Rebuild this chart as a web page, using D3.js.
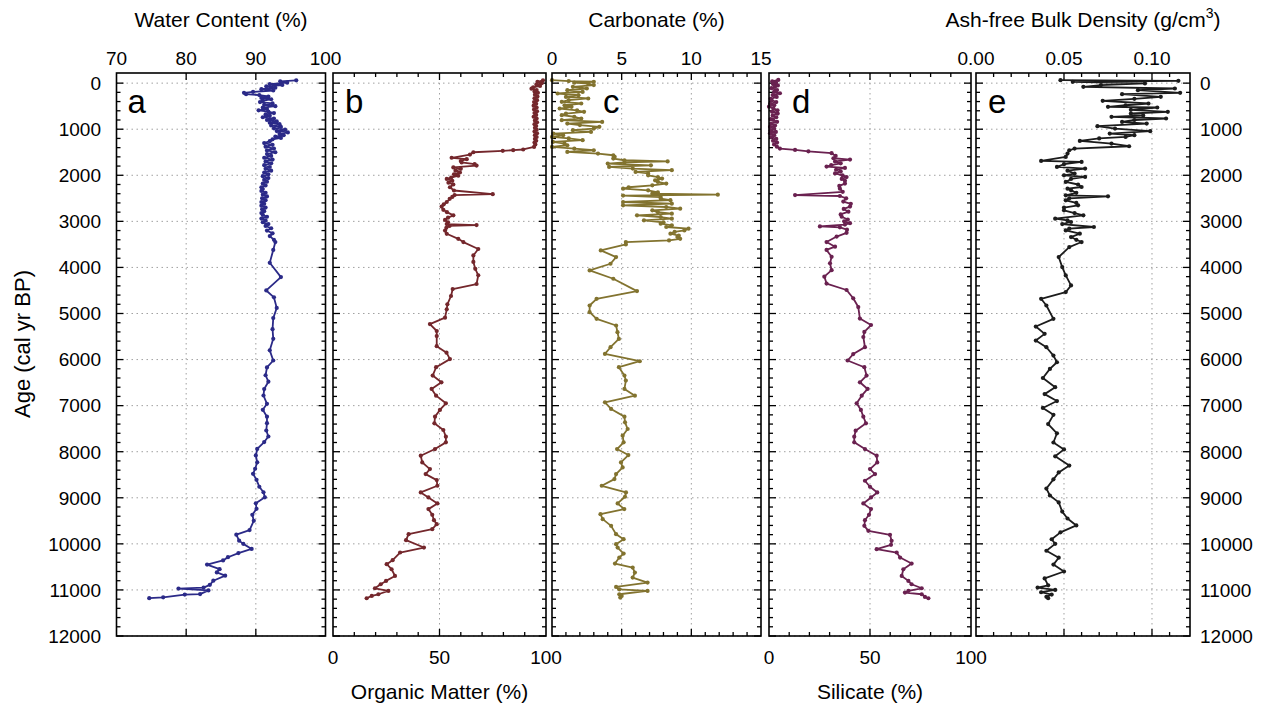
<!DOCTYPE html>
<html>
<head>
<meta charset="utf-8">
<script src="https://cdn.jsdelivr.net/npm/d3@7"></script>
<style>
  body { margin: 0; background: #fff; }
  svg { display: block; font-family: "Liberation Sans", Arial, Helvetica, sans-serif; }
</style>
</head>
<body>
<svg id="chart" width="1271" height="708"></svg>
<script>
// [age (cal yr BP), value]
const waterContent = [
  [-60,95.8],[-40,93.5],[-10,94.5],[20,92.0],[40,93.8],[70,91.5],[100,92.8],[130,90.8],[160,92.5],[190,89.6],
  [210,88.3],[240,88.6],[260,90.5],[290,91.8],[320,90.8],[350,92.2],[380,91.0],[410,90.6],[440,92.4],[470,91.2],
  [500,92.8],[530,91.0],[560,91.6],[590,90.4],[620,91.8],[650,92.6],[680,91.4],[710,92.0],[740,91.0],[770,92.6],
  [800,91.6],[830,93.0],[860,92.0],[890,93.4],[920,92.2],[950,93.6],[980,92.6],[1010,94.2],[1040,93.0],[1070,94.6],
  [1100,93.4],[1130,94.0],[1160,92.8],[1190,93.6],[1220,92.4],[1260,92.0],[1300,91.2],[1340,92.4],[1380,91.4],[1420,92.6],
  [1460,91.6],[1500,92.8],[1540,91.6],[1580,92.2],[1620,91.2],[1660,92.4],[1700,91.4],[1740,92.2],[1780,91.2],[1820,92.0],
  [1860,91.4],[1900,92.2],[1940,91.2],[1980,91.8],[2020,91.0],[2060,91.8],[2100,91.2],[2140,91.6],[2180,91.0],[2220,91.4],
  [2260,90.8],[2300,91.0],[2340,90.8],[2380,91.4],[2420,91.0],[2460,91.6],[2500,90.9],[2540,91.4],[2580,90.8],[2620,91.2],
  [2660,90.8],[2700,91.4],[2740,90.9],[2780,91.2],[2820,90.8],[2860,91.0],[2900,91.6],[2940,90.8],[2980,91.4],[3020,91.0],
  [3060,91.8],[3100,91.4],[3150,92.2],[3200,91.6],[3260,92.4],[3320,92.0],[3400,92.6],[3450,92.8],[3620,92.5],[3900,92.0],
  [4210,93.6],[4500,91.5],[4650,92.6],[4880,93.0],[5100,92.5],[5340,92.4],[5550,92.5],[5800,92.0],[6020,92.5],[6170,91.6],
  [6340,91.4],[6480,91.8],[6640,91.2],[6780,91.1],[6960,91.6],[7090,91.0],[7240,91.6],[7380,91.6],[7540,91.5],[7670,91.8],
  [7790,91.2],[7940,90.2],[8080,90.0],[8230,90.2],[8370,89.9],[8480,89.6],[8610,90.1],[8760,90.5],[8880,91.1],[8990,91.3],
  [9120,90.0],[9240,90.1],[9370,89.5],[9500,89.7],[9700,89.1],[9800,87.2],[9930,87.6],[10000,88.2],[10110,89.4],[10200,87.5],
  [10290,86.0],[10360,85.3],[10450,83.0],[10550,84.8],[10620,84.4],[10690,85.6],[10800,83.9],[10890,83.4],[10950,82.5],[10970,78.9],
  [11010,83.2],[11090,82.0],[11100,79.8],[11160,76.7],[11180,74.7]
];

const organicMatter = [
  [-60,98.6],[-30,96.0],[0,98.0],[30,95.5],[60,97.2],[90,94.0],[120,93.2],[150,95.6],[180,94.6],[210,96.2],
  [250,94.8],[290,96.0],[330,94.6],[370,95.8],[410,94.4],[450,95.4],[490,94.2],[530,95.6],[570,94.4],[610,95.8],
  [650,94.6],[690,95.4],[730,94.2],[770,95.6],[810,94.8],[850,95.8],[890,94.6],[930,95.4],[970,94.8],[1010,95.6],
  [1050,94.6],[1090,95.8],[1130,94.8],[1170,95.6],[1210,94.8],[1250,95.4],[1290,94.6],[1330,95.0],[1385,94.4],[1440,89.3],
  [1455,84.6],[1470,79.7],[1500,65.9],[1550,64.3],[1620,55.7],[1650,62.8],[1690,60.0],[1720,60.4],[1760,66.5],[1790,67.4],
  [1830,56.5],[1860,60.0],[1900,57.5],[1940,59.6],[1980,56.8],[2010,58.8],[2050,55.5],[2080,53.4],[2120,56.0],[2160,54.2],
  [2200,56.5],[2260,54.9],[2330,56.8],[2410,75.0],[2430,57.1],[2470,56.0],[2510,54.8],[2580,53.4],[2630,52.0],[2680,51.0],
  [2750,51.8],[2800,53.5],[2870,56.5],[2920,54.0],[2970,52.6],[3020,54.0],[3060,53.4],[3080,67.4],[3100,54.7],[3140,53.2],
  [3200,52.6],[3270,53.4],[3380,58.8],[3450,61.2],[3600,68.2],[3740,65.9],[3880,65.9],[4030,66.8],[4170,68.2],[4360,67.4],
  [4470,56.2],[4620,55.4],[4800,53.7],[4910,53.4],[5090,52.6],[5230,45.5],[5380,48.7],[5490,48.7],[5710,48.7],[5850,53.3],
  [5990,54.9],[6166,48.4],[6347,46.8],[6493,50.9],[6638,46.3],[6783,48.4],[6949,53.0],[7094,50.2],[7239,47.9],[7384,47.6],
  [7529,51.8],[7674,53.0],[7797,53.0],[7942,47.9],[8087,41.2],[8232,41.9],[8377,45.5],[8486,43.5],[8616,48.7],[8739,49.0],
  [8884,41.2],[8993,44.8],[9123,49.0],[9246,44.8],[9370,46.6],[9486,47.4],[9572,48.7],[9681,46.6],[9790,35.5],[9920,34.3],
  [10080,42.7],[10188,31.5],[10355,28.0],[10442,25.2],[10551,27.5],[10696,29.1],[10804,24.9],[10877,22.4],[10964,19.7],[11022,26.0],
  [11094,21.3],[11130,18.2],[11181,15.8]
];

const carbonate = [
  [-65,0.0],[-45,1.2],[-30,3.0],[-10,1.6],[10,2.6],[43,3.0],[80,1.5],[116,2.5],[152,1.1],[190,2.2],
  [225,0.4],[261,1.9],[300,1.0],[333,2.6],[370,1.2],[406,0.7],[442,2.1],[480,0.9],[514,1.4],[551,0.55],
  [590,1.8],[623,2.3],[660,1.0],[696,0.7],[730,1.6],[768,2.1],[804,0.7],[841,3.6],[877,1.1],[910,2.0],
  [949,3.4],[986,3.0],[1020,1.5],[1058,2.8],[1094,0.1],[1130,0.8],[1167,0.0],[1200,1.2],[1239,2.2],[1275,0.07],
  [1310,0.9],[1348,1.1],[1384,0.0],[1420,1.6],[1457,3.0],[1493,1.1],[1529,3.3],[1565,4.4],[1600,4.5],[1638,4.4],
  [1674,5.2],[1700,8.3],[1720,5.2],[1746,4.0],[1783,7.1],[1819,4.1],[1855,5.8],[1890,8.6],[1928,6.0],[1960,6.9],
  [2000,6.9],[2040,7.6],[2072,7.9],[2110,7.4],[2145,7.6],[2180,8.2],[2217,7.2],[2260,5.5],[2290,5.1],[2326,6.9],
  [2370,7.6],[2399,7.2],[2420,11.9],[2440,5.1],[2471,7.8],[2507,7.8],[2540,8.5],[2580,5.1],[2616,8.6],[2652,5.1],
  [2688,8.2],[2725,9.2],[2761,7.2],[2800,7.6],[2833,8.6],[2870,6.1],[2906,7.8],[2942,8.6],[2978,6.6],[3020,8.0],
  [3051,7.8],[3087,8.6],[3123,8.2],[3160,9.8],[3196,9.5],[3230,8.8],[3268,8.5],[3310,9.1],[3341,9.0],[3380,9.2],
  [3413,8.4],[3450,5.3],[3500,5.3],[3630,3.5],[3775,4.6],[3920,4.2],[4065,2.7],[4246,4.4],[4514,6.1],[4681,3.2],
  [4826,2.7],[4971,2.7],[5116,3.2],[5261,4.6],[5406,4.7],[5551,4.8],[5732,4.2],[5877,3.8],[6036,6.3],[6166,4.8],
  [6347,5.2],[6457,5.3],[6638,5.2],[6783,5.95],[6928,3.8],[7072,4.24],[7239,5.2],[7362,5.24],[7507,5.43],[7652,5.07],
  [7797,5.14],[7942,4.67],[8072,5.48],[8232,4.95],[8341,5.07],[8486,4.6],[8594,4.48],[8739,3.57],[8884,5.31],[8978,5.24],
  [9123,4.71],[9246,5.19],[9355,3.48],[9464,3.64],[9609,4.24],[9790,4.6],[9899,5.14],[10007,4.6],[10080,4.71],[10210,5.14],
  [10297,4.83],[10428,4.52],[10514,5.79],[10623,5.95],[10732,5.79],[10841,6.86],[10935,4.6],[10986,4.83],[11022,6.86],[11094,4.83],
  [11130,5.0],[11167,4.9]
];

const silicate = [
  [-70,4.6],[-40,1.6],[-10,3.5],[20,2.0],[50,4.4],[80,3.0],[110,1.2],[150,4.0],[190,2.5],[220,5.4],
  [260,1.8],[300,3.8],[340,0.8],[370,1.3],[410,3.6],[450,0.6],[480,2.6],[510,0.0],[550,2.2],[590,4.2],
  [620,1.5],[660,4.3],[700,1.8],[740,3.6],[780,0.8],[800,2.1],[840,4.0],[880,1.0],[920,3.0],[950,0.5],
  [990,2.6],[1030,0.7],[1060,3.4],[1090,0.5],[1130,2.6],[1170,1.0],[1210,3.6],[1250,2.0],[1290,4.0],[1330,2.5],
  [1380,3.9],[1420,5.4],[1450,12.9],[1480,19.5],[1520,31.0],[1580,33.0],[1630,31.9],[1660,40.1],[1700,32.7],[1740,35.5],
  [1780,30.8],[1810,28.5],[1840,37.6],[1880,33.2],[1920,35.5],[1960,32.7],[2000,36.4],[2040,38.4],[2080,36.0],[2120,37.6],
  [2180,37.6],[2230,34.8],[2290,35.1],[2360,36.5],[2430,12.9],[2450,35.1],[2500,38.2],[2570,36.8],[2620,40.5],[2680,40.1],
  [2730,37.0],[2790,39.3],[2850,35.5],[2900,36.0],[2960,39.0],[3000,37.2],[3040,40.1],[3070,37.6],[3110,25.2],[3130,35.1],
  [3180,38.6],[3250,38.4],[3330,33.5],[3450,28.5],[3550,32.7],[3620,28.5],[3770,31.0],[3910,30.2],[4060,31.0],[4200,27.4],
  [4350,28.5],[4490,38.4],[4670,41.7],[4860,44.2],[5110,45.0],[5250,50.5],[5400,47.2],[5510,46.7],[5730,47.5],[5880,41.7],
  [6020,38.9],[6166,47.2],[6347,48.3],[6493,45.0],[6638,48.8],[6783,45.9],[6949,43.4],[7094,45.5],[7239,46.7],[7384,48.0],
  [7543,42.9],[7674,42.2],[7797,42.2],[7942,47.5],[8087,53.3],[8232,53.6],[8377,50.0],[8486,52.5],[8630,47.5],[8761,50.0],
  [8884,53.6],[8993,50.5],[9123,46.7],[9246,50.5],[9370,49.5],[9486,47.5],[9609,47.2],[9717,49.2],[9804,59.9],[9935,60.7],
  [10022,60.4],[10116,53.3],[10188,63.2],[10297,64.9],[10428,70.6],[10551,66.5],[10696,65.7],[10804,69.0],[10877,70.6],[10964,75.6],
  [11022,69.0],[11058,67.3],[11094,75.6],[11152,77.2],[11181,78.9]
];

const bulkDensity = [
  [-65,0.048],[-51,0.115],[-29,0.055],[7,0.096],[43,0.071],[80,0.061],[116,0.113],[152,0.092],[210,0.116],[239,0.083],
  [297,0.105],[340,0.090],[384,0.072],[442,0.098],[480,0.085],[514,0.075],[529,0.103],[580,0.088],[623,0.109],[659,0.088],
  [700,0.095],[732,0.077],[768,0.108],[800,0.090],[841,0.083],[877,0.097],[935,0.069],[986,0.079],[1043,0.099],[1094,0.076],
  [1130,0.090],[1167,0.085],[1200,0.070],[1254,0.059],[1312,0.077],[1370,0.087],[1420,0.056],[1457,0.053],[1529,0.052],[1601,0.051],
  [1688,0.037],[1710,0.060],[1760,0.050],[1819,0.046],[1855,0.062],[1900,0.052],[1964,0.056],[2000,0.050],[2036,0.062],[2080,0.054],
  [2145,0.051],[2200,0.058],[2254,0.060],[2290,0.052],[2326,0.054],[2380,0.057],[2435,0.051],[2457,0.075],[2500,0.053],[2543,0.051],
  [2600,0.057],[2652,0.058],[2700,0.050],[2761,0.050],[2820,0.056],[2870,0.061],[2942,0.045],[2980,0.052],[3014,0.054],[3060,0.049],
  [3123,0.067],[3160,0.053],[3196,0.051],[3268,0.059],[3341,0.054],[3400,0.057],[3449,0.060],[3558,0.053],[3775,0.047],[3993,0.049],
  [4174,0.051],[4391,0.054],[4536,0.051],[4681,0.037],[4826,0.040],[5116,0.044],[5283,0.034],[5442,0.039],[5587,0.034],[5732,0.040],
  [5913,0.044],[6058,0.046],[6203,0.042],[6400,0.038],[6600,0.045],[6750,0.039],[6900,0.046],[7050,0.038],[7200,0.044],[7400,0.041],
  [7600,0.046],[7800,0.044],[7950,0.050],[8100,0.045],[8300,0.053],[8450,0.047],[8600,0.044],[8800,0.040],[8950,0.042],[9100,0.047],
  [9300,0.049],[9450,0.052],[9600,0.057],[9750,0.048],[9900,0.043],[10000,0.045],[10150,0.040],[10300,0.047],[10450,0.044],[10600,0.050],
  [10750,0.039],[10900,0.041],[10950,0.035],[11000,0.045],[11050,0.037],[11100,0.043],[11150,0.040],[11180,0.041]
];

const ageMajorTicks = d3.range(0, 12001, 1000);
const ageMinorTicks = d3.range(0, 12001, 200);

const svg = d3.select("#chart");
const plotTop = 73, plotBottom = 636;
const y = d3.scaleLinear().domain([-220, 12000]).range([plotTop, plotBottom]);

const panels = [
  { id: "a", data: waterContent, color: "#2b2a88", left: 116.5, right: 325.5, domain: [70, 100], letterX: 11,
    major: [80, 90], minor: [], topLabels: [70, 80, 90, 100], bottomLabels: [], fmt: d3.format("d") },
  { id: "b", data: organicMatter, color: "#74272c", left: 333, right: 546, domain: [0, 100], letterX: 12,
    major: [50], minor: d3.range(10, 100, 10), topLabels: [], bottomLabels: [0, 50, 100], fmt: d3.format("d") },
  { id: "c", data: carbonate, color: "#82732f", left: 552, right: 761, domain: [0, 15], letterX: 51,
    major: [5, 10], minor: d3.range(1, 15, 1), topLabels: [0, 5, 10, 15], bottomLabels: [], fmt: d3.format("d") },
  { id: "d", data: silicate, color: "#6a2150", left: 769, right: 971, domain: [0, 100], letterX: 23,
    major: [50], minor: d3.range(10, 100, 10), topLabels: [], bottomLabels: [0, 50, 100], fmt: d3.format("d") },
  { id: "e", data: bulkDensity, color: "#1c1c1c", left: 976, right: 1190, domain: [0, 0.1216], letterX: 12,
    major: [0.05, 0.1], minor: d3.range(0.01, 0.12, 0.01), topLabels: [0, 0.05, 0.1], bottomLabels: [], fmt: d3.format(".2f") }
];

panels.forEach(p => {
  const x = d3.scaleLinear().domain(p.domain).range([p.left, p.right]);
  const g = svg.append("g");

  // dotted grid
  g.selectAll(".hgrid").data(ageMajorTicks).join("line")
    .attr("x1", p.left).attr("x2", p.right)
    .attr("y1", d => y(d)).attr("y2", d => y(d))
    .attr("stroke", "#a0a0a0").attr("stroke-width", 1).attr("stroke-dasharray", "1.5,3.5");
  g.selectAll(".vgrid").data(p.major).join("line")
    .attr("x1", d => x(d)).attr("x2", d => x(d))
    .attr("y1", plotTop).attr("y2", plotBottom)
    .attr("stroke", "#a0a0a0").attr("stroke-width", 1).attr("stroke-dasharray", "1.5,3.5");

  // y ticks, both sides, inward
  [[p.left, 1], [p.right, -1]].forEach(([x0, dir]) => {
    g.selectAll(null).data(ageMinorTicks).join("line")
      .attr("x1", x0).attr("x2", d => x0 + dir * (d % 1000 === 0 ? 7 : 4))
      .attr("y1", d => y(d)).attr("y2", d => y(d))
      .attr("stroke", "#000").attr("stroke-width", 1.3);
  });

  // x ticks, top and bottom, inward
  const xt = p.major.map(v => [v, 7]).concat(p.minor.filter(v => !p.major.some(m => Math.abs(m - v) < 1e-9)).map(v => [v, 4]));
  [[plotTop, 1], [plotBottom, -1]].forEach(([y0, dir]) => {
    g.selectAll(null).data(xt).join("line")
      .attr("x1", d => x(d[0])).attr("x2", d => x(d[0]))
      .attr("y1", y0).attr("y2", d => y0 + dir * d[1])
      .attr("stroke", "#000").attr("stroke-width", 1.3);
  });

  // series
  const line = d3.line().x(d => x(d[1])).y(d => y(d[0]));
  g.append("path").datum(p.data)
    .attr("d", line).attr("fill", "none")
    .attr("stroke", p.color).attr("stroke-width", 1.8).attr("stroke-linejoin", "round");
  g.selectAll(".pt").data(p.data).join("circle")
    .attr("cx", d => x(d[1])).attr("cy", d => y(d[0])).attr("r", 2.1)
    .attr("fill", p.color);

  // frame
  g.append("rect")
    .attr("x", p.left).attr("y", plotTop)
    .attr("width", p.right - p.left).attr("height", plotBottom - plotTop)
    .attr("fill", "none").attr("stroke", "#000").attr("stroke-width", 1.6);

  // tick labels
  g.selectAll(null).data(p.topLabels).join("text")
    .attr("x", d => x(d)).attr("y", 65)
    .attr("text-anchor", "middle").attr("font-size", 19)
    .text(d => p.fmt(d));
  g.selectAll(null).data(p.bottomLabels).join("text")
    .attr("x", d => x(d)).attr("y", 664)
    .attr("text-anchor", "middle").attr("font-size", 19)
    .text(d => p.fmt(d));

  // panel letter
  g.append("text")
    .attr("x", p.left + p.letterX).attr("y", 113)
    .attr("font-size", 33)
    .text(p.id);
});

// age axis labels
svg.append("g").selectAll("text").data(ageMajorTicks).join("text")
  .attr("x", 101).attr("y", d => y(d)).attr("dy", "0.36em")
  .attr("text-anchor", "end").attr("font-size", 19)
  .text(d => d);
svg.append("g").selectAll("text").data(ageMajorTicks).join("text")
  .attr("x", 1200).attr("y", d => y(d)).attr("dy", "0.36em")
  .attr("text-anchor", "start").attr("font-size", 19)
  .text(d => d);

// axis titles
const title = (x, yy, txt) => svg.append("text")
  .attr("x", x).attr("y", yy).attr("text-anchor", "middle").attr("font-size", 21).text(txt);
title((panels[0].left + panels[0].right) / 2, 27, "Water Content (%)");
title((panels[2].left + panels[2].right) / 2, 27, "Carbonate (%)");
title((panels[1].left + panels[1].right) / 2, 699, "Organic Matter (%)");
title((panels[3].left + panels[3].right) / 2, 699, "Silicate (%)");
const ash = svg.append("text")
  .attr("x", (panels[4].left + panels[4].right) / 2).attr("y", 27)
  .attr("text-anchor", "middle").attr("font-size", 21);
ash.append("tspan").text("Ash-free Bulk Density (g/cm");
ash.append("tspan").attr("font-size", 14).attr("dy", -9).text("3");
ash.append("tspan").attr("dy", 9).text(")");

svg.append("text")
  .attr("transform", `translate(30,344) rotate(-90)`)
  .attr("text-anchor", "middle").attr("font-size", 22)
  .text("Age (cal yr BP)");
</script>
</body>
</html>
